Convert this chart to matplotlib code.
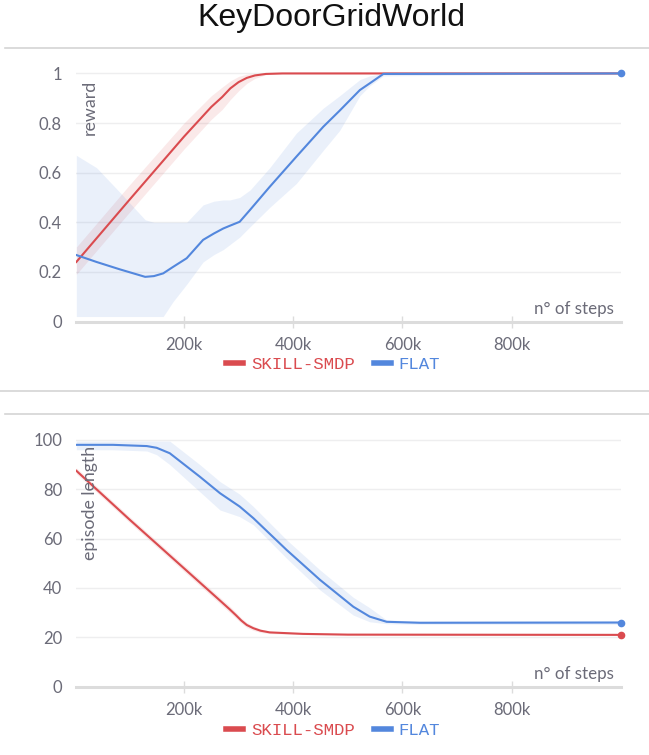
import numpy as np
import matplotlib
matplotlib.use("Agg")
import matplotlib.pyplot as plt
from matplotlib.lines import Line2D

# ---- data -------------------------------------------------------------
series_names = ["SKILL-SMDP", "FLAT"]

# reward vs steps
reward_smdp_x = [3e3, 100e3, 200e3, 250e3, 270e3, 285e3, 300e3, 315e3, 330e3, 350e3, 380e3, 1000e3]
reward_smdp_y = [0.24, 0.49, 0.745, 0.865, 0.905, 0.94, 0.965, 0.982, 0.992, 0.998, 1.0, 1.0]
reward_smdp_lo = [0.19, 0.44, 0.695, 0.815, 0.855, 0.895, 0.93, 0.96, 0.98, 0.995, 1.0, 1.0]
reward_smdp_hi = [0.30, 0.55, 0.80, 0.91, 0.945, 0.97, 0.988, 0.997, 1.0, 1.0, 1.0, 1.0]

reward_flat_x = [3e3, 40e3, 83e3, 129e3, 145e3, 162e3, 180e3, 205e3, 235e3, 255e3, 272e3,
                 284e3, 302e3, 321e3, 357e3, 406e3, 455e3, 485e3, 522e3, 540e3, 565e3, 1000e3]
reward_flat_y = [0.268, 0.24, 0.21, 0.18, 0.183, 0.194, 0.22, 0.255, 0.329, 0.355, 0.375,
                 0.386, 0.402, 0.45, 0.543, 0.665, 0.785, 0.85, 0.933, 0.96, 0.998, 1.0]
reward_flat_lo = [0.02, 0.02, 0.02, 0.02, 0.02, 0.02, 0.08, 0.15, 0.24, 0.27, 0.29,
                  0.31, 0.34, 0.382, 0.46, 0.557, 0.69, 0.77, 0.91, 0.95, 0.99, 1.0]
reward_flat_hi = [0.67, 0.62, 0.52, 0.41, 0.40, 0.40, 0.40, 0.40, 0.47, 0.485, 0.49,
                  0.49, 0.50, 0.53, 0.62, 0.76, 0.86, 0.91, 0.975, 0.99, 1.0, 1.0]

# episode length vs steps
length_smdp_x = [3e3, 100e3, 205e3, 266e3, 284e3, 295e3, 305e3, 315e3, 327e3, 340e3,
                 357e3, 418e3, 500e3, 1000e3]
length_smdp_y = [87.5, 67.8, 47.0, 34.9, 31.3, 29.0, 26.8, 25.0, 23.7, 22.7,
                 22.0, 21.4, 21.1, 21.0]
length_smdp_lo = [86.3, 66.6, 45.7, 33.6, 30.0, 27.8, 25.7, 24.0, 22.8, 22.0,
                  21.5, 21.1, 20.9, 20.8]
length_smdp_hi = [88.7, 69.0, 48.3, 36.2, 32.6, 30.2, 27.9, 26.0, 24.6, 23.4,
                  22.5, 21.7, 21.3, 21.2]

length_flat_x = [3e3, 70e3, 132e3, 150e3, 174e3, 229e3, 266e3, 302e3, 327e3, 388e3,
                 449e3, 510e3, 540e3, 571e3, 632e3, 1000e3]
length_flat_y = [98.0, 98.0, 97.5, 96.8, 94.6, 85.1, 78.4, 73.0, 68.3, 55.4,
                 43.3, 32.4, 28.4, 26.3, 25.9, 26.0]
length_flat_lo = [96.0, 96.0, 95.5, 94.0, 90.0, 79.0, 71.6, 68.9, 65.6, 52.0,
                  39.2, 29.0, 26.3, 25.5, 25.3, 25.3]
length_flat_hi = [99.5, 99.5, 99.5, 99.5, 99.5, 90.0, 83.1, 78.0, 73.0, 59.5,
                  47.3, 36.2, 32.0, 27.0, 26.6, 26.7]

x_ticks = [200e3, 400e3, 600e3, 800e3]
x_tick_labels = ["200k", "400k", "600k", "800k"]
reward_ticks = [0, 0.2, 0.4, 0.6, 0.8, 1]
reward_tick_labels = ["0", "0.2", "0.4", "0.6", "0.8", "1"]
length_ticks = [0, 20, 40, 60, 80, 100]
length_tick_labels = ["0", "20", "40", "60", "80", "100"]

# ---- style ------------------------------------------------------------
RED = "#da4b4f"
BLUE = "#5387dd"
TXT = "#6b6b78"
GRID = "#eeeeef"
AXLINE = "#dcdcdc"
plt.rcParams["font.family"] = ["Lato", "DejaVu Sans"]

W, H = 649, 755
fig = plt.figure(figsize=(W / 100, H / 100), dpi=100)


def px_rect(left, top, right, bottom):
    return [left / W, 1 - bottom / H, (right - left) / W, (bottom - top) / H]


def style_axis(ax, yticks, ylabels, ylim, ylabel, ylabel_top_px, ax_top_px, ax_bot_px):
    ax.set_xlim(2.4e3, 1000e3)
    ax.set_ylim(*ylim)
    for s in ["top", "right", "left"]:
        ax.spines[s].set_visible(False)
    ax.spines["bottom"].set_color(AXLINE)
    ax.spines["bottom"].set_linewidth(2.2)
    ax.set_yticks(yticks)
    ax.set_yticklabels(ylabels)
    ax.set_xticks(x_ticks)
    ax.set_xticklabels(x_tick_labels)
    ax.tick_params(axis="y", length=0, pad=10, labelsize=12, labelcolor=TXT)
    ax.tick_params(axis="x", direction="inout", length=9, width=1, color=AXLINE,
                   pad=6.5, labelsize=12, labelcolor=TXT)
    ax.yaxis.grid(True, color=GRID, linewidth=1)
    ax.set_axisbelow(True)
    frac = (ylabel_top_px - ax_top_px) / (ax_bot_px - ax_top_px)
    ax.text(0.026, 1 - frac, ylabel, transform=ax.transAxes, rotation=90,
            ha="center", va="top", fontsize=12.8, color=TXT)
    ax.text(0.987, 0.018, "n° of steps", transform=ax.transAxes,
            ha="right", va="bottom", fontsize=12.2, color=TXT)


def draw_series(ax, x, y, lo, hi, color, end_dot):
    ax.fill_between(x, lo, hi, color=color, alpha=0.12, linewidth=0)
    ax.plot(x, y, color=color, linewidth=1.5)
    if end_dot:
        ax.plot([x[-1]], [y[-1]], "o", color=color, markersize=4.5, clip_on=False)


# top panel: reward
ax1 = fig.add_axes(px_rect(76, 66, 621, 321.5))
style_axis(ax1, reward_ticks, reward_tick_labels, (0, 1.03), "reward", 80, 66, 321.5)
draw_series(ax1, reward_smdp_x, reward_smdp_y, reward_smdp_lo, reward_smdp_hi, RED, False)
draw_series(ax1, reward_flat_x, reward_flat_y, reward_flat_lo, reward_flat_hi, BLUE, True)

# bottom panel: episode length
ax2 = fig.add_axes(px_rect(76, 432, 621, 686.7))
style_axis(ax2, length_ticks, length_tick_labels, (0, 103.2), "episode length", 446, 432, 686.7)
draw_series(ax2, length_smdp_x, length_smdp_y, length_smdp_lo, length_smdp_hi, RED, True)
draw_series(ax2, length_flat_x, length_flat_y, length_flat_lo, length_flat_hi, BLUE, True)

# legends below each panel
handles = [Line2D([], [], color=RED, linewidth=4),
           Line2D([], [], color=BLUE, linewidth=4)]
for ax, ypx in [(ax1, 364), (ax2, 730)]:
    leg = fig.legend(handles=handles, labels=series_names, ncol=2, frameon=False,
                     loc="center", bbox_to_anchor=(333 / W, 1 - ypx / H),
                     prop={"family": "Liberation Mono", "size": 12.5},
                     handlelength=1.0, handletextpad=0.45, columnspacing=1.1,
                     borderpad=0, borderaxespad=0)
    for txt, c in zip(leg.get_texts(), [RED, BLUE]):
        txt.set_color(c)

# title and panel separators
fig.text(331 / W, 1 - 18 / H, "KeyDoorGridWorld", ha="center", va="center",
         fontsize=23, family="Liberation Sans", color="#111111")
for y, x0 in [(47.5, 5), (391, 0), (414, 5)]:
    fig.add_artist(Line2D([x0 / W, 1], [1 - y / H, 1 - y / H], color="#d4d4d4",
                          linewidth=1.2, transform=fig.transFigure))

fig.savefig("out.png", dpi=100)
